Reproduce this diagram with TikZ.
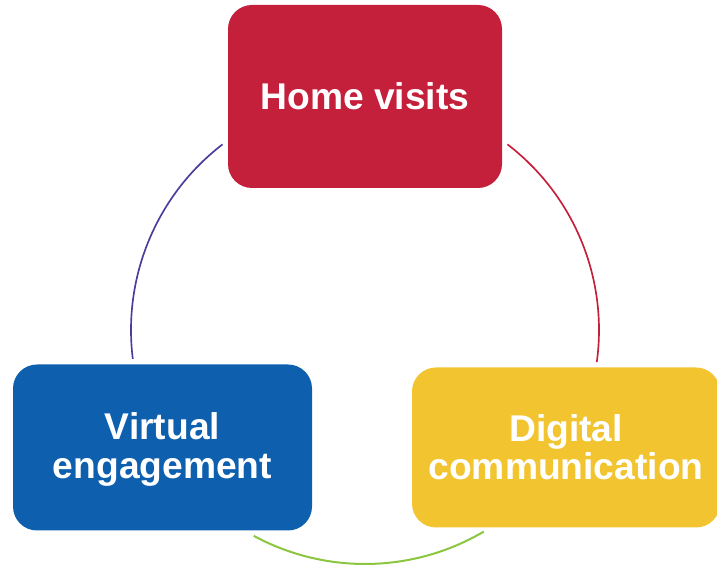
\documentclass[tikz,border=0pt]{standalone}
\usepackage{fontspec}
\setmainfont{Liberation Sans}
\usepackage{xcolor}
\usetikzlibrary{positioning,calc}

\definecolor{homered}{HTML}{C41F3B}
\definecolor{virtualblue}{HTML}{0E5FAE}
\definecolor{digitalyellow}{HTML}{F2C42F}
\definecolor{linepurple}{HTML}{4A3D9C}
\definecolor{linegreen}{HTML}{8CC63F}

\begin{document}
\begin{tikzpicture}[
    x=0.75pt, y=0.75pt,
    font=\fontsize{27.9}{28.6}\selectfont\bfseries,
    box/.style={rectangle, rounded corners=18pt, text=white, align=center, inner sep=0pt},
    cycleline/.style={line width=1.25pt}
]

    % canvas
    \useasboundingbox (0,0) rectangle (717,567);
    \clip (0,0) rectangle (717,567);

    % Centre of the ring
    \coordinate (ring) at (365,237);

    % The three boxes
    \node[box, fill=homered, minimum width=274*0.75pt, minimum height=183*0.75pt] (home) at (365,470.5) {Home visits};
    \node[box, fill=virtualblue, minimum width=299*0.75pt, minimum height=166*0.75pt] (virtual) at (162.5,119.5) {};
    \node[text=white, align=center] (virtualtext) at (162.5,117.5) {Virtual\\engagement};
    \node[box, fill=digitalyellow, minimum width=308*0.75pt, minimum height=160*0.75pt] (digital) at (566,119.5) {Digital\\communication};

    % Arcs of the ring between the boxes
    \draw[cycleline, homered] ([shift={(52.5:234)}]ring) arc[start angle=52.5, end angle=-7.9, radius=234];
    \draw[cycleline, linegreen, line width=1.5pt] ([shift={(241.6:234)}]ring) arc[start angle=241.6, end angle=300.5, radius=234];
    \draw[cycleline, linepurple] ([shift={(187.1:234)}]ring) arc[start angle=187.1, end angle=127.5, radius=234];

\end{tikzpicture}
\end{document}
